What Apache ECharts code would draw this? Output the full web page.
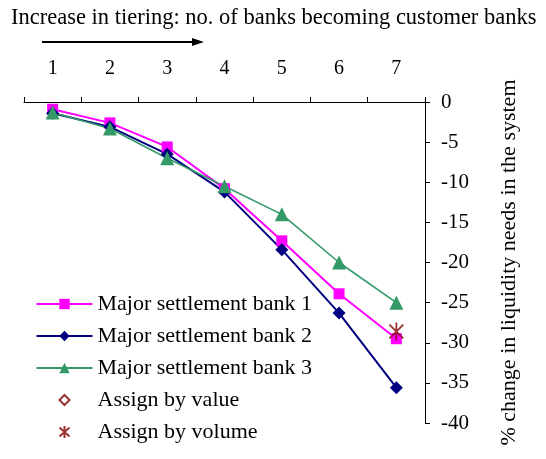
<!DOCTYPE html>
<html>
<head>
<meta charset="utf-8">
<script src="https://cdn.jsdelivr.net/npm/echarts@6/dist/echarts.min.js"></script>
<style>
  html, body { margin: 0; padding: 0; background: #fff; }
  #chart { width: 546px; height: 459px; }
</style>
</head>
<body>
<div id="chart"></div>
<script>
const categories = ['1', '2', '3', '4', '5', '6', '7']
const bank1 = [-0.9, -2.6, -5.6, -10.8, -17.3, -23.9, -29.5]
const bank2 = [-1.4, -3.1, -6.5, -11.2, -18.4, -26.3, -35.6]
const bank3 = [-1.3, -3.3, -7.0, -10.5, -14.0, -20.0, -25.0]
const byValue = [null, null, null, null, null, null, null]
const byVolume = [null, null, null, null, null, null, -28.6]

const FONT = '"Liberation Serif", "DejaVu Serif", serif'
const asterisk = 'path://M0,0 L10,10 M10,0 L0,10 M5,-1.5 L5,11.5'
// legend icons padded to the 56x12 legend box so they are not stretched
const diamondIcon = 'path://M0,0 M56,12 M28,1 L33,6 L28,11 L23,6 Z'
const asteriskIcon = 'path://M0,0 M56,12 M23,1.5 L33,10.5 M33,1.5 L23,10.5 M28,0 L28,12'

const chart = echarts.init(document.getElementById('chart'))

chart.setOption({
    animation: false,
    textStyle: { fontFamily: FONT, color: '#000' },
    graphic: [
        {
            type: 'text',
            left: 11,
            top: 7,
            style: {
                text: 'Increase in tiering: no. of banks becoming customer banks',
                fontFamily: FONT,
                fontSize: 22.5,
                fill: '#000',
            },
        },
        {
            type: 'line',
            shape: { x1: 42, y1: 42, x2: 195, y2: 42 },
            style: { stroke: '#000', lineWidth: 2 },
        },
        {
            type: 'polygon',
            shape: { points: [[192, 38], [204, 42], [192, 46]] },
            style: { fill: '#000' },
        },
    ],
    grid: { left: 24, right: 121, top: 102, bottom: 36 },
    legend: {
        orient: 'vertical',
        left: 29,
        top: 288,
        itemWidth: 56,
        itemHeight: 13,
        itemGap: 10,
        textStyle: { fontFamily: FONT, fontSize: 22, color: '#000' },
        data: [
            'Major settlement bank 1',
            'Major settlement bank 2',
            'Major settlement bank 3',
            { name: 'Assign by value', icon: diamondIcon },
            { name: 'Assign by volume', icon: asteriskIcon },
        ],
    },
    xAxis: {
        type: 'category',
        position: 'top',
        data: categories,
        boundaryGap: true,
        axisLine: { lineStyle: { color: '#000', width: 1 } },
        axisTick: { show: true, length: 5, lineStyle: { color: '#000' } },
        axisLabel: { color: '#000', fontFamily: FONT, fontSize: 20, margin: 23 },
        splitLine: { show: false },
    },
    yAxis: {
        type: 'value',
        position: 'right',
        min: -40,
        max: 0,
        interval: 5,
        name: '% change in liquidity needs in the system',
        nameLocation: 'middle',
        nameRotate: 90,
        nameGap: 73,
        nameTextStyle: { fontFamily: FONT, fontSize: 22, color: '#000' },
        axisLine: { show: true, lineStyle: { color: '#000', width: 1 } },
        axisTick: { show: true, length: 5, lineStyle: { color: '#000' } },
        axisLabel: { color: '#000', fontFamily: FONT, fontSize: 21, margin: 16 },
        splitLine: { show: false },
    },
    series: [
        {
            name: 'Major settlement bank 1',
            type: 'line',
            data: bank1,
            symbol: 'rect',
            symbolSize: 11,
            color: '#ff00ff',
            lineStyle: { width: 2, color: '#ff00ff' },
            itemStyle: { color: '#ff00ff' },
        },
        {
            name: 'Major settlement bank 2',
            type: 'line',
            data: bank2,
            symbol: 'diamond',
            symbolSize: 13,
            color: '#000080',
            lineStyle: { width: 2, color: '#000080' },
            itemStyle: { color: '#000080' },
        },
        {
            name: 'Major settlement bank 3',
            type: 'line',
            data: bank3,
            symbol: 'triangle',
            symbolSize: 14,
            color: '#339966',
            lineStyle: { width: 1.6, color: '#339966' },
            itemStyle: { color: '#339966' },
        },
        {
            name: 'Assign by value',
            type: 'scatter',
            data: byValue,
            symbol: 'diamond',
            symbolSize: 11,
            itemStyle: { color: '#fff', borderColor: '#800000', borderWidth: 1.6 },
        },
        {
            name: 'Assign by volume',
            type: 'scatter',
            data: byVolume,
            symbol: asterisk,
            symbolSize: 18,
            symbolKeepAspect: true,
            z: 5,
            itemStyle: { color: 'none', borderColor: '#800000', borderWidth: 1.8 },
        },
    ],
})
</script>
</body>
</html>
